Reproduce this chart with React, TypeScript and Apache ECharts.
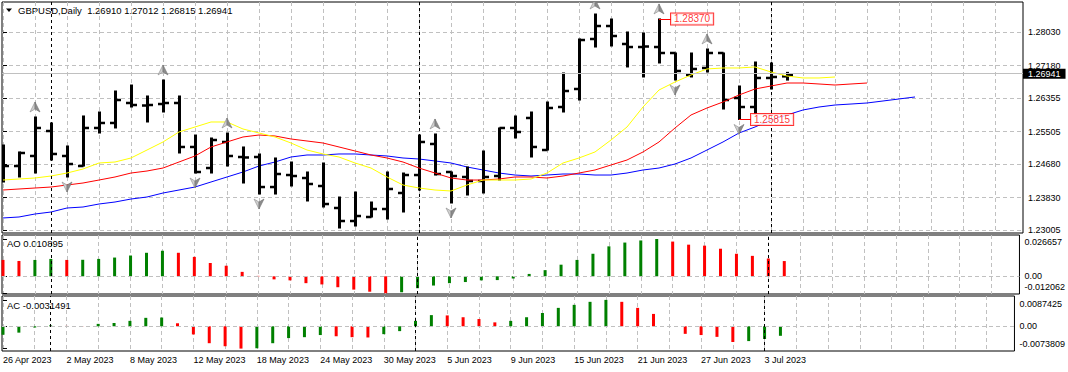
import React, { useEffect, useRef } from "react";
import * as echarts from "echarts";

const FONT = "'Liberation Sans', Arial, sans-serif";
const symbolTitle = "GBPUSD,Daily";

const dates = [
  "26 Apr 2023", "27 Apr 2023", "28 Apr 2023", "1 May 2023", "2 May 2023", "3 May 2023", "4 May 2023", "5 May 2023",
  "8 May 2023", "9 May 2023", "10 May 2023", "11 May 2023", "12 May 2023", "15 May 2023", "16 May 2023", "17 May 2023",
  "18 May 2023", "19 May 2023", "22 May 2023", "23 May 2023", "24 May 2023", "25 May 2023", "26 May 2023", "29 May 2023",
  "30 May 2023", "31 May 2023", "1 Jun 2023", "2 Jun 2023", "5 Jun 2023", "6 Jun 2023", "7 Jun 2023", "8 Jun 2023",
  "9 Jun 2023", "12 Jun 2023", "13 Jun 2023", "14 Jun 2023", "15 Jun 2023", "16 Jun 2023", "19 Jun 2023", "20 Jun 2023",
  "21 Jun 2023", "22 Jun 2023", "23 Jun 2023", "26 Jun 2023", "27 Jun 2023", "28 Jun 2023", "29 Jun 2023", "30 Jun 2023",
  "3 Jul 2023", "4 Jul 2023",
];

const opens = [
  1.24784, 1.24631, 1.24886, 1.25521, 1.24886, 1.24631, 1.25598, 1.25725, 1.26233, 1.26169,
  1.26207, 1.26233, 1.25115, 1.2458, 1.25242, 1.2486, 1.2486, 1.24097, 1.24402, 1.24326,
  1.24123, 1.23564, 1.23233, 1.23335, 1.23538, 1.23945, 1.24402, 1.25191, 1.24479, 1.24352,
  1.2425, 1.24377, 1.25598, 1.25852, 1.25038, 1.26131, 1.26589, 1.2786, 1.2819, 1.27733,
  1.27656, 1.27656, 1.27504, 1.26945, 1.27123, 1.27504, 1.2636, 1.26131, 1.26869, 1.2691,
];
const highs = [
  1.25165, 1.24988, 1.25877, 1.25725, 1.2514, 1.25903, 1.26004, 1.26538, 1.2669, 1.26411,
  1.26818, 1.26411, 1.25419, 1.25343, 1.2547, 1.25115, 1.24937, 1.24835, 1.24733, 1.24479,
  1.24708, 1.23843, 1.2397, 1.23716, 1.24479, 1.24453, 1.25419, 1.25445, 1.24479, 1.24606,
  1.25013, 1.25598, 1.25903, 1.26004, 1.26258, 1.26996, 1.2786, 1.28495, 1.28368, 1.28038,
  1.28012, 1.2837, 1.27504, 1.27504, 1.27606, 1.27504, 1.26665, 1.27275, 1.2725, 1.27012,
];
const lows = [
  1.24225, 1.24352, 1.24453, 1.24784, 1.24352, 1.24631, 1.2547, 1.25598, 1.26131, 1.2575,
  1.26004, 1.24962, 1.24453, 1.24453, 1.24631, 1.24199, 1.23919, 1.23919, 1.24123, 1.23742,
  1.23589, 1.23055, 1.23106, 1.23335, 1.23284, 1.23462, 1.24021, 1.24402, 1.23691, 1.23894,
  1.23945, 1.24275, 1.25343, 1.2486, 1.25038, 1.26004, 1.26309, 1.27656, 1.27682, 1.27149,
  1.26894, 1.2725, 1.26818, 1.26894, 1.27021, 1.2608, 1.25815, 1.25979, 1.26589, 1.26815,
];
const closes = [
  1.24631, 1.24962, 1.25598, 1.24937, 1.24682, 1.25598, 1.25725, 1.26309, 1.26182, 1.26182,
  1.26233, 1.25115, 1.24479, 1.25292, 1.24886, 1.24848, 1.24097, 1.24428, 1.24377, 1.24174,
  1.23665, 1.23233, 1.2336, 1.23538, 1.24047, 1.24402, 1.25242, 1.24428, 1.24377, 1.2425,
  1.24352, 1.25598, 1.25496, 1.25115, 1.26106, 1.26538, 1.27834, 1.2819, 1.27936, 1.27656,
  1.27669, 1.27504, 1.27047, 1.27098, 1.27504, 1.26309, 1.26131, 1.26869, 1.26894, 1.26941,
];

// Alligator lines (lips shifted 3, teeth shifted 5, jaw shifted 8 bars forward)
const lips = [
  1.24275, 1.24301, 1.24326, 1.24377, 1.24453, 1.24555, 1.24708, 1.24733, 1.24835, 1.25038,
  1.25242, 1.25496, 1.25623, 1.2575, 1.2575, 1.25572, 1.2547, 1.25369, 1.25216, 1.25038,
  1.24937, 1.2486, 1.24708, 1.2458, 1.24352, 1.24148, 1.24072, 1.24021, 1.23996, 1.24148,
  1.24275, 1.24275, 1.24275, 1.24301, 1.24453, 1.24708, 1.24835, 1.24988, 1.25292, 1.25623,
  1.26131, 1.26563, 1.26767, 1.26945, 1.27098, 1.27123, 1.27123, 1.27149, 1.27021, 1.26919,
  1.26869, 1.26869, 1.26894,
];
const teeth = [
  1.24021, 1.24047, 1.24072, 1.24097, 1.24148, 1.24199, 1.24275, 1.24352, 1.24453, 1.24504,
  1.2458, 1.24733, 1.24886, 1.25115, 1.25242, 1.25369, 1.25419, 1.25394, 1.25318, 1.25267,
  1.25216, 1.25115, 1.25013, 1.24911, 1.24835, 1.24733, 1.2458, 1.24453, 1.24326, 1.24275,
  1.24275, 1.24301, 1.24352, 1.24352, 1.24326, 1.24377, 1.24453, 1.2453, 1.24657, 1.24784,
  1.24988, 1.25242, 1.25598, 1.25928, 1.26106, 1.26258, 1.26436, 1.26589, 1.26665, 1.26741,
  1.26741, 1.26716, 1.2669, 1.26716, 1.26741,
];
const jaw = [
  1.2331, 1.23335, 1.23411, 1.23462, 1.23564, 1.23589, 1.23665, 1.23716, 1.23792, 1.23843,
  1.23945, 1.24021, 1.24097, 1.24225, 1.24352, 1.24479, 1.24631, 1.24733, 1.2486, 1.24911,
  1.24911, 1.24937, 1.24937, 1.24911, 1.24886, 1.24835, 1.24809, 1.24759, 1.24708, 1.24606,
  1.2453, 1.24453, 1.24402, 1.24377, 1.24402, 1.24428, 1.24428, 1.24402, 1.24402, 1.24453,
  1.2453, 1.2458, 1.24682, 1.24835, 1.25038, 1.25242, 1.2547, 1.25623, 1.25801, 1.25928,
  1.26055, 1.26131, 1.26182, 1.26207, 1.26233, 1.26284, 1.26335, 1.26386,
];

const aoValues = [
  0.01169, 0.01096, 0.01169, 0.01242, 0.01169, 0.0118, 0.01242, 0.01339, 0.01485, 0.0168,
  0.01826, 0.0168, 0.01388, 0.0095, 0.00755, 0.00317, 0.0003, -0.0022, -0.0029, -0.0049,
  -0.0058, -0.0078, -0.0095, -0.011, -0.012062, -0.0114, -0.0085, -0.0066, -0.0049, -0.0041,
  -0.0029, -0.0027, -0.0015, 0.0017, 0.0044, 0.0083, 0.0117, 0.0161, 0.0214, 0.0241,
  0.0256, 0.026657, 0.0248, 0.0226, 0.0219, 0.0197, 0.0161, 0.0146, 0.0127, 0.010895,
];
const aoBefore = 0.012;
const acValues = [
  -0.0028, -0.0021, -0.0004, 0.0003, 0.00012, 0.00005, 0.0008, 0.0011, 0.0018, 0.0028,
  0.0029, 0.001, -0.0027, -0.0056, -0.0066, -0.0073809, -0.0073, -0.0056, -0.0039, -0.0036,
  -0.0029, -0.0033, -0.0036, -0.0037, -0.0026, -0.0016, 0.0018, 0.0037, 0.0036, 0.003,
  0.0024, 0.0013, 0.0018, 0.003, 0.0044, 0.0061, 0.0071, 0.0081, 0.0087425, 0.0081,
  0.0061, 0.0041, -0.0001, -0.0025, -0.0029, -0.0035, -0.0052, -0.0049, -0.0042, -0.0031491,
];
const acBefore = -0.003;

const upFractals = [2, 10, 14, 27, 37, 41, 44];
const downFractals = [4, 12, 16, 21, 28, 42, 46];
const highMarkBar = 41;
const lowMarkBar = 46;

const priceTicks = [1.2803, 1.2718, 1.26355, 1.25505, 1.2468, 1.2383, 1.23005];
const aoTicks = [0.026657, 0, -0.012062];
const acTicks = [0.0087425, 0, -0.0073809];

const GREEN = "#008000";
const RED = "#ff0000";
const GRIDC = "#c0c0c0";

const X_MIN = -0.0625;
const X_MAX = 63.75;

const AO_MIN = -0.01264, AO_MAX = 0.0295, AO_H = 59;
const AC_MIN = -0.00818, AC_MAX = 0.01003, AC_H = 55;

function buildOption() {
  const last = closes.length - 1;
  const vGrid: number[] = [];
  for (let k = 0; k <= 62; k += 2) vGrid.push(k);
  const labelXs = dates.map((_, i) => i).filter((i) => i % 4 === 0);
  const monthStarts = dates
    .map((d, i) => i)
    .filter((i) => i > 0 && dates[i].split(" ")[1] !== dates[i - 1].split(" ")[1]);

  const sepLines = monthStarts.map((i) => ({
    xAxis: i,
    lineStyle: { color: "#000", type: [3, 3], width: 1 },
    label: { show: false },
  }));

  // indicator-window labels sit just inside the panel (top one lower, bottom one higher)
  const insetLabels = (ticks: number[], min: number, max: number, h: number, dTop: number, dBot: number) => {
    const upp = (max - min) / h;
    return ticks.map((t, k) => (k === 0 ? t - dTop * upp : k === ticks.length - 1 ? t + dBot * upp : t));
  };
  const nearestText = (ticks: number[]) => (v: number) => {
    let best = ticks[0];
    for (const t of ticks) if (Math.abs(t - v) < Math.abs(best - v)) best = t;
    return best === 0 ? "0.00" : String(best);
  };

  const xAxis = (gridIndex: number, labels: boolean) => ({
    type: "value",
    gridIndex,
    min: X_MIN,
    max: X_MAX,
    axisLine: { show: false },
    axisTick: { show: false, customValues: vGrid },
    splitLine: { show: true, lineStyle: { color: GRIDC, type: [4, 3], width: 1 } },
    axisLabel: labels
      ? {
          show: true,
          customValues: labelXs,
          formatter: (v: number) => dates[Math.round(v)] || "",
          align: "left",
          margin: 4,
          fontSize: 9,
          fontFamily: FONT,
          color: "#000",
        }
      : { show: false },
  });

  const yAxis = (
    gridIndex: number,
    min: number,
    max: number,
    ticks: number[],
    labelVals: number[],
    fmt: (v: number) => string,
    split: boolean
  ) => ({
    type: "value",
    gridIndex,
    position: "right",
    min,
    max,
    axisLine: { show: false },
    axisTick: { show: true, length: 4, customValues: ticks, lineStyle: { color: "#000" } },
    axisLabel: { show: true, customValues: labelVals, formatter: fmt, margin: 5, fontSize: 9, lineHeight: 9, fontFamily: FONT, color: "#000" },
    splitLine: { show: split, lineStyle: { color: GRIDC, type: [4, 3], width: 1 } },
  });

  const ohlc = opens.map((o, i) => [i, o, highs[i], lows[i], closes[i]]);
  const fractals = [
    ...upFractals.map((i) => [i, highs[i], 1]),
    ...downFractals.map((i) => [i, lows[i], -1]),
  ];

  const histColor = (vals: number[], before: number) =>
    vals.map((v, i) => ({
      value: [i, v],
      itemStyle: { color: v > (i === 0 ? before : vals[i - 1]) ? GREEN : RED },
    }));

  const header = `${symbolTitle}  ${opens[last].toFixed(5)} ${highs[last].toFixed(5)} ${lows[last].toFixed(5)} ${closes[last].toFixed(5)}`;

  const zeroLine = {
    yAxis: 0,
    lineStyle: { color: GRIDC, type: [4, 3], width: 1 },
    label: { show: false },
  };

  return {
    animation: false,
    backgroundColor: "#fff",
    textStyle: { fontFamily: FONT },
    grid: [
      { left: 2, top: 2, width: 1021, height: 231, show: true, borderColor: "#000", borderWidth: 1, backgroundColor: "#fff" },
      { left: 2, top: 235, width: 1021, height: AO_H, show: true, borderColor: "#000", borderWidth: 1, backgroundColor: "#fff" },
      { left: 2, top: 296, width: 1021, height: AC_H, show: true, borderColor: "#000", borderWidth: 1, backgroundColor: "#fff" },
    ],
    xAxis: [xAxis(0, false), xAxis(1, false), xAxis(2, true)],
    yAxis: [
      yAxis(0, 1.229282, 1.288003, priceTicks, priceTicks, (v) => v.toFixed(5), true),
      yAxis(1, AO_MIN, AO_MAX, aoTicks, insetLabels(aoTicks, AO_MIN, AO_MAX, AO_H, 3, 6), nearestText(aoTicks), false),
      yAxis(2, AC_MIN, AC_MAX, acTicks, insetLabels(acTicks, AC_MIN, AC_MAX, AC_H, 4, 5), nearestText(acTicks), false),
    ],
    graphic: [
      { type: "polygon", shape: { points: [[6, 8.5], [12, 8.5], [9, 12]] }, style: { fill: "#000" } },
      { type: "text", x: 18, y: 10.5, style: { text: header, fontSize: 9.5, fontFamily: FONT, fill: "#000", verticalAlign: "middle" } },
      { type: "text", x: 7, y: 243.5, style: { text: `AO ${aoValues[last]}`, fontSize: 9.5, fontFamily: FONT, fill: "#000", verticalAlign: "middle" } },
      { type: "text", x: 7, y: 305, style: { text: `AC ${acValues[last]}`, fontSize: 9.5, fontFamily: FONT, fill: "#000", verticalAlign: "middle" } },
    ],
    series: [
      {
        type: "line",
        name: "jaw",
        xAxisIndex: 0,
        yAxisIndex: 0,
        data: jaw.map((v, i) => [i, v]),
        showSymbol: false,
        symbol: "none",
        lineStyle: { color: "#0000ff", width: 1 },
        z: 2,
        markLine: {
          silent: true,
          symbol: ["none", "none"],
          data: [
            {
              yAxis: closes[last],
              lineStyle: { color: GRIDC, type: "solid", width: 1 },
              label: {
                show: true,
                position: "end",
                distance: 0,
                formatter: closes[last].toFixed(5),
                backgroundColor: "#000",
                color: "#fff",
                padding: [0, 5, 0, 5],
                lineHeight: 10,
                offset: [0, 1],
                fontSize: 9,
                fontFamily: FONT,
              },
            },
            ...sepLines,
          ],
        },
      },
      {
        type: "custom",
        name: "bars",
        xAxisIndex: 0,
        yAxisIndex: 0,
        data: ohlc,
        encode: { x: 0, y: [1, 2, 3, 4] },
        clip: true,
        z: 3,
        renderItem: (params: any, api: any) => {
          const i = api.value(0);
          const pO = api.coord([i, api.value(1)]);
          const pH = api.coord([i, api.value(2)]);
          const pL = api.coord([i, api.value(3)]);
          const pC = api.coord([i, api.value(4)]);
          const x = Math.round(pH[0]) + 0.5;
          const st = { stroke: "#000", lineWidth: 3 };
          return {
            type: "group",
            children: [
              { type: "line", shape: { x1: x, y1: pH[1] - 0.5, x2: x, y2: pL[1] + 0.5 }, style: st },
              { type: "line", shape: { x1: x - 5.5, y1: pO[1], x2: x, y2: pO[1] }, style: { stroke: "#000", lineWidth: 2.5 } },
              { type: "line", shape: { x1: x, y1: pC[1], x2: x + 5.5, y2: pC[1] }, style: { stroke: "#000", lineWidth: 2.5 } },
            ],
          };
        },
      },
      {
        type: "line",
        name: "teeth",
        xAxisIndex: 0,
        yAxisIndex: 0,
        data: teeth.map((v, i) => [i, v]),
        showSymbol: false,
        symbol: "none",
        lineStyle: { color: "#ff0000", width: 1 },
        z: 4,
      },
      {
        type: "line",
        name: "lips",
        xAxisIndex: 0,
        yAxisIndex: 0,
        data: lips.map((v, i) => [i, v]),
        showSymbol: false,
        symbol: "none",
        lineStyle: { color: "#ffff00", width: 1 },
        z: 4,
      },
      {
        type: "custom",
        name: "fractals",
        xAxisIndex: 0,
        yAxisIndex: 0,
        data: fractals,
        encode: { x: 0, y: 1 },
        clip: true,
        z: 5,
        renderItem: (params: any, api: any) => {
          const p = api.coord([api.value(0), api.value(1)]);
          const dir = api.value(2);
          const x = p[0];
          let light, dark;
          if (dir > 0) {
            const cy = p[1] - 10;
            light = [[x, cy - 5], [x, cy + 2], [x - 5, cy + 5]];
            dark = [[x, cy - 5], [x + 5, cy + 5], [x, cy + 2]];
          } else {
            const cy = p[1] + 10;
            light = [[x, cy + 5], [x, cy - 2], [x - 5, cy - 5]];
            dark = [[x, cy + 5], [x + 5, cy - 5], [x, cy - 2]];
          }
          return {
            type: "group",
            children: [
              { type: "polygon", shape: { points: light }, style: { fill: "#d0d0d0", stroke: "#8a8a8a", lineWidth: 0.6 } },
              { type: "polygon", shape: { points: dark }, style: { fill: "#8c8c8c", stroke: "#707070", lineWidth: 0.6 } },
            ],
          };
        },
      },
      {
        type: "scatter",
        name: "hilo",
        xAxisIndex: 0,
        yAxisIndex: 0,
        symbolSize: 1,
        itemStyle: { color: "rgba(0,0,0,0)" },
        z: 6,
        data: [
          [highMarkBar, highs[highMarkBar]],
          [lowMarkBar, lows[lowMarkBar]],
        ],
        label: {
          show: true,
          position: "right",
          distance: 11.5,
          formatter: (p: any) => p.value[1].toFixed(5),
          color: RED,
          backgroundColor: "#fff",
          borderColor: RED,
          borderWidth: 1,
          padding: [1, 3, 0, 3],
          fontSize: 10,
          fontFamily: FONT,
        },
        markLine: {
          silent: true,
          symbol: ["none", "none"],
          lineStyle: { color: RED, type: "solid", width: 1 },
          label: { show: false },
          data: [
            [{ coord: [highMarkBar, highs[highMarkBar]] }, { coord: [highMarkBar + 0.75, highs[highMarkBar]] }],
            [{ coord: [lowMarkBar, lows[lowMarkBar]] }, { coord: [lowMarkBar + 0.75, lows[lowMarkBar]] }],
          ],
        },
      },
      {
        type: "bar",
        name: "AO",
        xAxisIndex: 1,
        yAxisIndex: 1,
        barWidth: 3,
        data: histColor(aoValues, aoBefore),
        markLine: { silent: true, symbol: ["none", "none"], data: [zeroLine, ...sepLines] },
      },
      {
        type: "bar",
        name: "AC",
        xAxisIndex: 2,
        yAxisIndex: 2,
        barWidth: 3,
        data: histColor(acValues, acBefore),
        markLine: { silent: true, symbol: ["none", "none"], data: [zeroLine, ...sepLines] },
      },
    ],
  };
}

export default function App() {
  const ref = useRef<HTMLDivElement>(null);
  useEffect(() => {
    if (!ref.current) return;
    const chart = echarts.init(ref.current, null, { renderer: "svg" });
    chart.setOption(buildOption() as any);
    return () => {
      chart.dispose();
    };
  }, []);
  return (
    <div
      ref={ref}
      style={{ position: "absolute", left: 0, top: 0, width: 1068, height: 372, background: "#fff" }}
    />
  );
}
